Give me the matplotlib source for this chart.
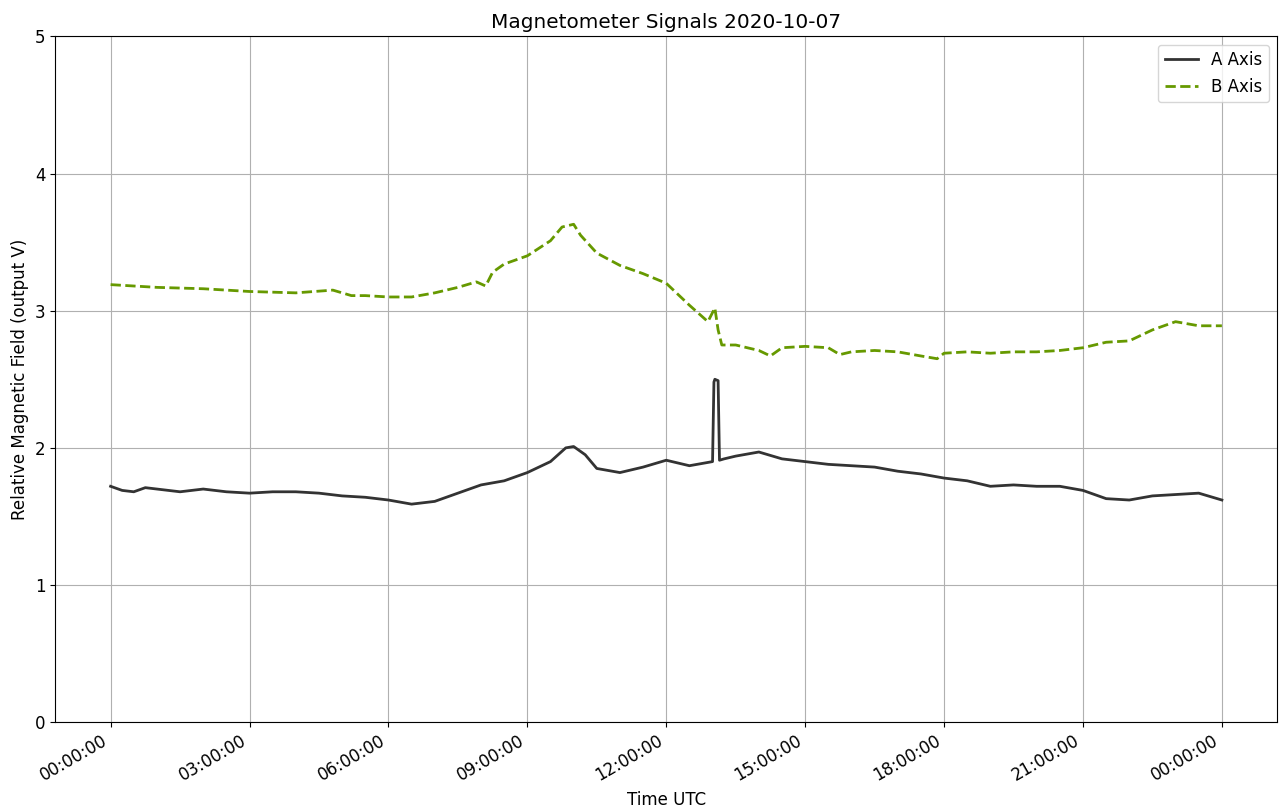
import matplotlib
matplotlib.use("Agg")
import matplotlib.pyplot as plt
import matplotlib.dates as mdates
import pandas as pd

a_hours = [0, 0.25, 0.5, 0.75, 1, 1.5, 2, 2.5, 3, 3.5, 4, 4.5, 5, 5.5, 6, 6.5, 7, 7.5,
           8, 8.5, 9, 9.5, 9.83, 10, 10.25, 10.5, 11, 11.5, 12, 12.5, 13, 13.03, 13.05,
           13.12, 13.15, 13.25, 13.5, 14, 14.5, 15, 15.5, 16, 16.5, 17, 17.5, 18, 18.5,
           19, 19.5, 20, 20.5, 21, 21.5, 22, 22.5, 23, 23.5, 24]
a_values = [1.72, 1.69, 1.68, 1.71, 1.70, 1.68, 1.70, 1.68, 1.67, 1.68, 1.68, 1.67, 1.65,
            1.64, 1.62, 1.59, 1.61, 1.67, 1.73, 1.76, 1.82, 1.90, 2.00, 2.01, 1.95, 1.85,
            1.82, 1.86, 1.91, 1.87, 1.90, 2.48, 2.50, 2.49, 1.91, 1.92, 1.94, 1.97, 1.92,
            1.90, 1.88, 1.87, 1.86, 1.83, 1.81, 1.78, 1.76, 1.72, 1.73, 1.72, 1.72, 1.69,
            1.63, 1.62, 1.65, 1.66, 1.67, 1.62]

b_hours = [0, 1, 2, 3, 4, 4.8, 5.2, 5.5, 6, 6.5, 7, 7.5, 7.9, 8.1, 8.25, 8.5, 9, 9.5, 9.75,
           10, 10.15, 10.5, 11, 11.5, 12, 12.5, 12.9, 13.05, 13.12, 13.2, 13.5, 14, 14.25,
           14.5, 15, 15.5, 15.75, 16, 16.5, 17, 17.5, 17.85, 18, 18.5, 19, 19.5, 20, 20.5,
           21, 21.5, 22, 22.5, 23, 23.5, 24]
b_values = [3.19, 3.17, 3.16, 3.14, 3.13, 3.15, 3.11, 3.11, 3.10, 3.10, 3.13, 3.17, 3.21,
            3.18, 3.28, 3.34, 3.40, 3.51, 3.61, 3.63, 3.55, 3.42, 3.33, 3.27, 3.20, 3.04,
            2.92, 3.02, 2.86, 2.75, 2.75, 2.71, 2.67, 2.73, 2.74, 2.73, 2.68, 2.70, 2.71,
            2.70, 2.67, 2.65, 2.69, 2.70, 2.69, 2.70, 2.70, 2.71, 2.73, 2.77, 2.78, 2.86,
            2.92, 2.89, 2.89]

day = pd.Timestamp("2020-10-07")
a_times = [day + pd.Timedelta(hours=h) for h in a_hours]
b_times = [day + pd.Timedelta(hours=h) for h in b_hours]

plt.rcParams["font.size"] = 12

fig, ax = plt.subplots(figsize=(12.8, 8.07), dpi=100)
ax.plot(a_times, a_values, color="#333333", linewidth=2, label="A Axis")
ax.plot(b_times, b_values, color="#669900", linewidth=2, linestyle="--", label="B Axis")

ax.set_ylim(0, 5)
ax.set_yticks([0, 1, 2, 3, 4, 5])
ax.xaxis.set_major_locator(mdates.HourLocator(byhour=range(0, 24, 3)))
ax.xaxis.set_major_formatter(mdates.DateFormatter("%H:%M:%S"))
ax.grid(True)
ax.set_title("Magnetometer Signals 2020-10-07")
ax.set_xlabel("Time UTC")
ax.set_ylabel("Relative Magnetic Field (output V)")
ax.legend(loc="upper right")
fig.autofmt_xdate()
fig.subplots_adjust(left=0.043, right=0.998, top=0.955, bottom=0.105)
fig.savefig("out.png", dpi=100)
